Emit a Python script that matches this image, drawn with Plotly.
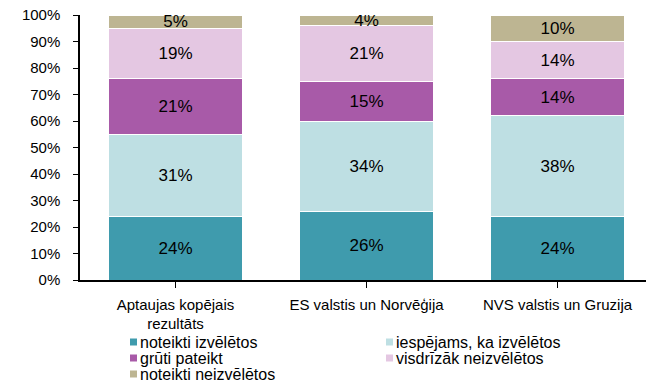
import plotly.graph_objects as go

categories = ["Aptaujas kopējais<br>rezultāts", "ES valstis un Norvēģija", "NVS valstis un Gruzija"]
series_names = ["noteikti izvēlētos", "iespējams, ka izvēlētos", "grūti pateikt",
                "visdrīzāk neizvēlētos", "noteikti neizvēlētos"]
noteikti_izveletos = [24, 26, 24]
iespejams_izveletos = [31, 34, 38]
gruti_pateikt = [21, 15, 14]
visdrizak_neizveletos = [19, 21, 14]
noteikti_neizveletos = [5, 4, 10]
y_ticks = [0, 10, 20, 30, 40, 50, 60, 70, 80, 90, 100]

values = [noteikti_izveletos, iespejams_izveletos, gruti_pateikt,
          visdrizak_neizveletos, noteikti_neizveletos]
colors = ["#3F9BAD", "#BEDFE3", "#A85AA8", "#E4C7E2", "#BDB592"]

FONT = "Liberation Sans, Arial, sans-serif"
W, H = 646, 383
ML, MR, MT, MB = 80, 0, 15, 103
PW, PH = W - ML - MR, H - MT - MB
CAT_PX = 191  # pixel width of one category slot

fig = go.Figure()
for name, vals, col in zip(series_names, values, colors):
    fig.add_trace(go.Bar(
        x=list(range(len(categories))), y=vals, name=name,
        marker=dict(color=col, line=dict(color="white", width=1)),
        text=[f"{v}%" for v in vals], textposition="inside",
        insidetextanchor="middle", textangle=0,
        textfont=dict(family=FONT, size=17, color="black"),
        width=0.705, showlegend=False,
    ))

# legend drawn as coloured squares plus labels, two columns
def px_x(px):
    return (px - ML) / PW

def px_y(py):
    return (H - MB - py) / PH

legend_cols = [130, 386]
legend_rows = [342, 358, 374]
for i, (name, col) in enumerate(zip(series_names, colors)):
    cx = legend_cols[i % 2]
    cy = legend_rows[i // 2]
    fig.add_shape(type="rect", xref="paper", yref="paper",
                  x0=px_x(cx), x1=px_x(cx + 7), y0=px_y(cy + 3.5), y1=px_y(cy - 3.5),
                  fillcolor=col, line=dict(width=0))
    fig.add_annotation(xref="paper", yref="paper", x=px_x(cx + 9), y=px_y(cy),
                       xanchor="left", yanchor="middle", showarrow=False,
                       borderpad=0,
                       text=name, font=dict(family=FONT, size=16, color="black"))

fig.update_layout(
    barmode="stack",
    width=W, height=H,
    margin=dict(l=ML, r=MR, t=MT, b=MB),
    paper_bgcolor="white", plot_bgcolor="white",
    font=dict(family=FONT, size=15, color="black"),
    uniformtext=dict(minsize=17, mode="show"),
    showlegend=False,
)
fig.update_xaxes(range=[-0.5, -0.5 + PW / CAT_PX],
                 tickmode="array", tickvals=list(range(len(categories))), ticktext=categories,
                 showline=True, linecolor="black", linewidth=1.5,
                 ticks="outside", tickson="boundaries", ticklen=6, tickcolor="black",
                 ticklabelstandoff=4,
                 tickfont=dict(family=FONT, size=15))
fig.update_yaxes(range=[0, 100], tickvals=y_ticks, ticktext=[f"{t}%" for t in y_ticks],
                 showgrid=False, showline=True, linecolor="black", linewidth=1.5,
                 ticks="outside", ticklen=5, tickcolor="black",
                 ticklabelstandoff=10,
                 tickfont=dict(family=FONT, size=15), zeroline=False)

fig.write_html("out.html")
